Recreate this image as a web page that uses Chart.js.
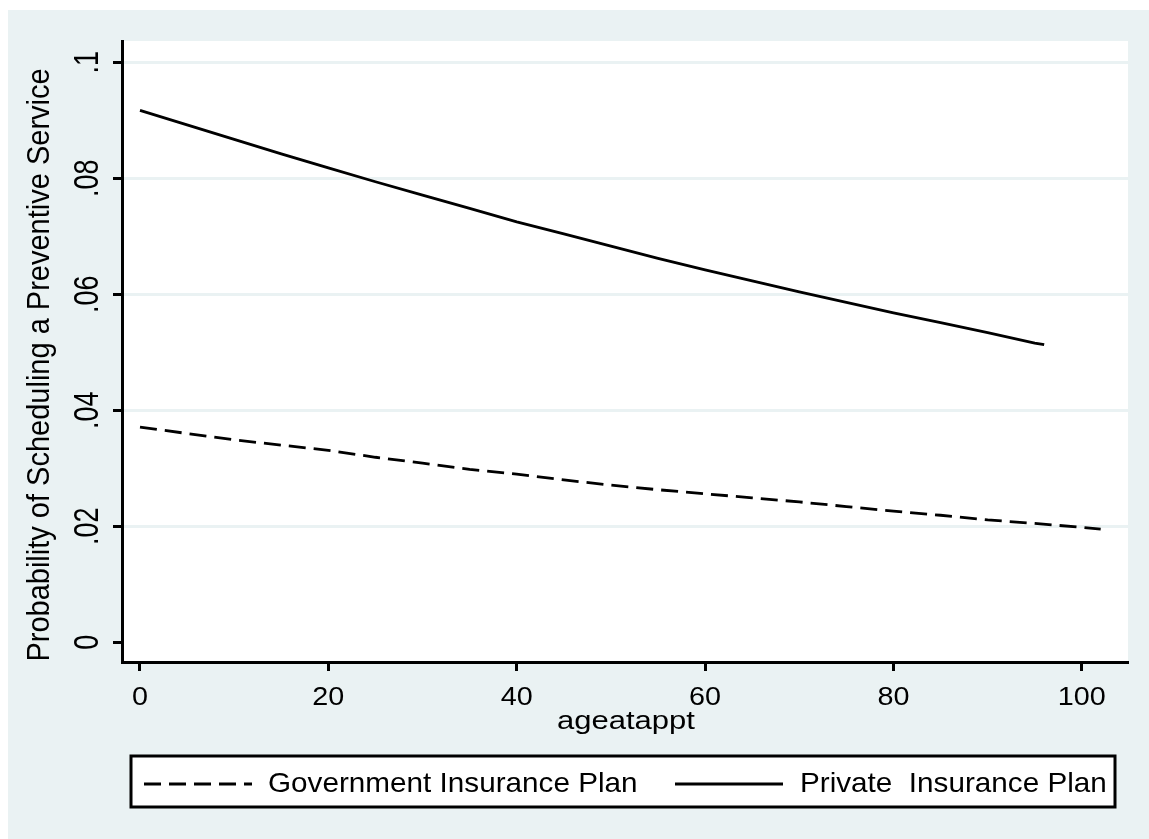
<!DOCTYPE html>
<html>
<head>
<meta charset="utf-8">
<script src="https://cdn.jsdelivr.net/npm/chart.js@4"></script>
<style>
  html, body { margin: 0; padding: 0; background: #fff; }
  canvas { display: block; }
</style>
</head>
<body>
<canvas id="c" width="1149" height="839"></canvas>
<script>
// values
const AGES_PRIVATE = [0, 5, 10, 15, 20, 25, 30, 35, 40, 45, 50, 55, 60, 65, 70, 75, 80, 85, 90, 95, 96];
const PROB_PRIVATE = [.0917, .0892, .0867, .0842, .0818, .0794, .0771, .0748, .0725, .0704, .0683,
  .0662, .0642, .0623, .0604, .0586, .0568, .0551, .0534, .0516, .0513];
const AGES_GOV = [0, 5, 10, 15, 20, 25, 30, 35, 40, 45, 50, 55, 60, 65, 70, 75, 80, 85, 90, 95, 100, 102];
const PROB_GOV = [.0371, .0360, .0349, .0340, .0331, .0319, .0309, .0298, .0290, .0280, .0271,
  .0263, .0256, .0249, .0242, .0234, .0226, .0219, .0211, .0205, .0198, .0195];
const X_TICKS = [0, 20, 40, 60, 80, 100];
const Y_TICKS = [0, .02, .04, .06, .08, .1];
const SERIES = ["Government Insurance Plan", "Private  Insurance Plan"];
const X_TITLE = "ageatappt";
const Y_TITLE = "Probability of Scheduling a Preventive Service";

const BG = "#eaf2f3", INK = "#000";
const FONT = '"Liberation Sans", Arial, sans-serif';

function txt(ctx, s, x, y, o) {
  ctx.save();
  ctx.translate(x, y);
  if (o.rot) ctx.rotate(o.rot);
  ctx.scale(o.sx || 1, o.sy || 1);
  ctx.font = o.size + "px " + FONT;
  ctx.fillStyle = INK;
  ctx.textAlign = o.align || "left";
  ctx.textBaseline = "alphabetic";
  ctx.fillText(s, 0, 0);
  ctx.restore();
}

function yLabel(v) {
  if (v === 0) return "0";
  return String(+v.toFixed(2)).replace(/^0/, "");
}

const stataLook = {
  id: "stataLook",
  beforeDraw(chart) {
    const { ctx, chartArea: a } = chart;
    ctx.save();
    ctx.fillStyle = "#fff";
    ctx.fillRect(0, 0, chart.width, chart.height);
    ctx.fillStyle = BG;
    ctx.fillRect(8, 10, chart.width - 8, chart.height - 10);
    ctx.fillStyle = "#fff";
    ctx.fillRect(a.left - 1, a.top, a.right - a.left + 1, a.bottom - a.top + 1);
    ctx.restore();
  },
  afterDraw(chart) {
    const { ctx } = chart;
    const xs = chart.scales.x, ys = chart.scales.y;
    X_TICKS.forEach(v => txt(ctx, String(v), xs.getPixelForValue(v), 705, { size: 25, sx: 1.15, align: "center" }));
    Y_TICKS.forEach(v => txt(ctx, yLabel(v), 98, ys.getPixelForValue(v), { size: 27, sy: 1.3, rot: -Math.PI / 2, align: "center" }));
    txt(ctx, X_TITLE, 626, 729, { size: 25, sx: 1.24, align: "center" });
    txt(ctx, Y_TITLE, 49, 365, { size: 29, sy: 1.05, rot: -Math.PI / 2, align: "center" });

    // legend box
    ctx.save();
    ctx.fillStyle = "#fff";
    ctx.fillRect(131, 756, 984, 51);
    ctx.strokeStyle = INK;
    ctx.lineWidth = 3;
    ctx.strokeRect(131, 756, 984, 51);
    const keys = [[144, 268], [675, 800]];
    chart.data.datasets.forEach((ds, i) => {
      const [lx, tx] = keys[i];
      ctx.beginPath();
      ctx.setLineDash(ds.borderDash || []);
      ctx.lineWidth = ds.borderWidth;
      ctx.moveTo(lx, 784);
      ctx.lineTo(lx + 108, 784);
      ctx.stroke();
      ctx.setLineDash([]);
      txt(ctx, ds.label, tx, 792, { size: 28, sx: 1.06 });
    });
    ctx.restore();
  }
};

new Chart(document.getElementById("c"), {
  type: "line",
  data: {
    datasets: [
      {
        label: SERIES[0],
        data: AGES_GOV.map((a, i) => ({ x: a, y: PROB_GOV[i] })),
        borderColor: INK, borderWidth: 2.8, borderDash: [17, 8],
        pointRadius: 0, fill: false, tension: 0
      },
      {
        label: SERIES[1],
        data: AGES_PRIVATE.map((a, i) => ({ x: a, y: PROB_PRIVATE[i] })),
        borderColor: INK, borderWidth: 2.8,
        pointRadius: 0, fill: false, tension: 0
      }
    ]
  },
  options: {
    responsive: false,
    animation: false,
    devicePixelRatio: 1,
    layout: { padding: { top: 41, right: 21, left: 0, bottom: 0 } },
    plugins: { legend: { display: false }, tooltip: { enabled: false } },
    scales: {
      x: {
        type: "linear", min: -1.91, max: 104.9,
        afterFit: s => { s.height = 177; },
        ticks: { display: false, stepSize: 20, includeBounds: false },
        border: { display: true, color: INK, width: 3 },
        grid: { drawOnChartArea: false, drawTicks: true, tickLength: 9, tickWidth: 3, tickColor: INK, color: INK }
      },
      y: {
        type: "linear", min: -0.0034, max: 0.10367,
        afterFit: s => { s.width = 122; },
        ticks: { display: false, stepSize: 0.02, includeBounds: false },
        border: { display: true, color: INK, width: 3 },
        grid: {
          color: c => (c.tick && c.tick.value === 0 ? "rgba(0,0,0,0)" : BG),
          lineWidth: 3, drawTicks: true, tickLength: 9, tickWidth: 3, tickColor: INK
        }
      }
    }
  },
  plugins: [stataLook]
});
</script>
</body>
</html>
